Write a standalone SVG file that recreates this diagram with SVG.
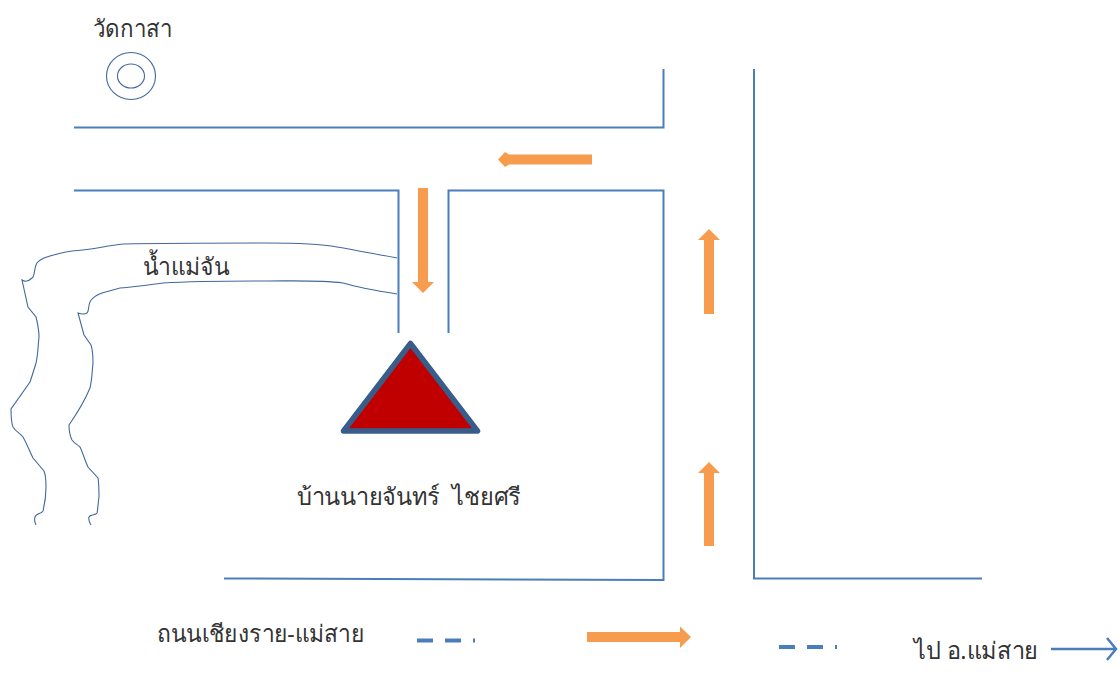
<svg xmlns="http://www.w3.org/2000/svg" width="1120" height="691" viewBox="0 0 1120 691">
<style>
.road{fill:none;stroke:#4a7ebb;stroke-width:2}
.river{fill:none;stroke:#41689c;stroke-width:1.1}
.flow{fill:#f79646;opacity:.95}
.dash{fill:none;stroke:#4a7ebb;stroke-width:4}
text{font-family:"Noto Sans","DejaVu Sans",sans-serif;font-size:24px;fill:#333;white-space:pre}
</style>
<rect width="1120" height="691" fill="#fff"/>
<g id="connectors">
<path class="road" d="M74 127.500H663.500V69"/>
<path class="road" d="M74 190.500H398.500V333"/>
<path class="road" d="M448.500 333V190.500H663.500V580L224 578.500"/>
<path class="road" d="M754 69V578.500H982"/>
<path class="river" d="M397 258C375 254 355 250 337 247C315 243 290 243 267 243C220 243 170 243 123 244C105 246 90 250 72 251C62 252 58 254 50 256C43 258 39 260 37 263C34 267 35 277 32 278C29 281 25 282 22 280L28 307L36 317C38 325 39 330 39 337C38 346 38 355 36 363C34 370 32 376 30 382L11 409C11 416 11 422 13 427C16 432 20 433 23 437C27 444 30 452 33 458L44 471C46 476 46 481 46 487C46 495 45 503 43 511C41 514 36 513 35 517C34 520 35 523 36 525"/>
<path class="river" d="M397 294C378 291 360 288 343 283C320 280 295 281 267 281C232 281 197 281 163 283C148 285 135 287 120 288L102 293C96 295 92 298 90 302C88 306 89 312 87 313C84 315 81 314 78 313L84 335L91 345C93 351 93 357 93 363C92 372 92 380 90 388C85 400 78 412 69 425C69 431 70 436 72 440C75 444 77 444 80 447C83 453 85 461 88 467L98 478C99 484 99 490 99 497C98 503 98 509 97 513C95 516 90 514 89 517C88 520 90 523 91 525"/>
<path class="flow" d="M418 188H428V282H434L423 293L412 282H418Z"/>
<path class="flow" d="M592 154.500V164.500H509L505 167L498 159.500L505 152L509 154.500Z"/>
<path class="flow" d="M704 314V240H698L709 229L720 240H714V314Z"/>
<path class="flow" d="M704 546V473H698L709 462L720 473H714V546Z"/>
<path class="flow" d="M587 632H680V626.500L691 637L680 648V642H587Z"/>
<path class="dash" d="M417 640.500H433M445 640.500H461M473 640.500H475"/>
<path class="dash" d="M779 647H795M807 647H823M835 647H837"/>
<path class="road" d="M1051 649H1115M1107 638L1116 649L1107 660" style="stroke-width:2.500"/>
</g>
<g id="wat"><ellipse cx="131" cy="76" rx="24.500" ry="23.500" fill="none" stroke="#41689c" stroke-width="1.100"/><ellipse cx="131" cy="76" rx="13.500" ry="12" fill="none" stroke="#41689c" stroke-width="1.100"/><text x="93" y="37" textLength="79" lengthAdjust="spacingAndGlyphs">วัดกาสา</text></g>
<g id="house"><path d="M410.500 343.500L477.500 431H343.500Z" fill="#c00000" stroke="#385d8a" stroke-width="5.500" stroke-linejoin="round"/><text x="297" y="505" textLength="224" lengthAdjust="spacingAndGlyphs">บ้านนายจันทร์  ไชยศรี</text></g>
<g id="river-label"><text x="143" y="275" textLength="86" lengthAdjust="spacingAndGlyphs">น้ำแม่จัน</text></g>
<g id="road-label"><text x="157" y="642" textLength="207" lengthAdjust="spacingAndGlyphs">ถนนเชียงราย-แม่สาย</text></g>
<g id="to-label"><text x="914" y="659" textLength="124" lengthAdjust="spacingAndGlyphs">ไป อ.แม่สาย</text></g>
</svg>
